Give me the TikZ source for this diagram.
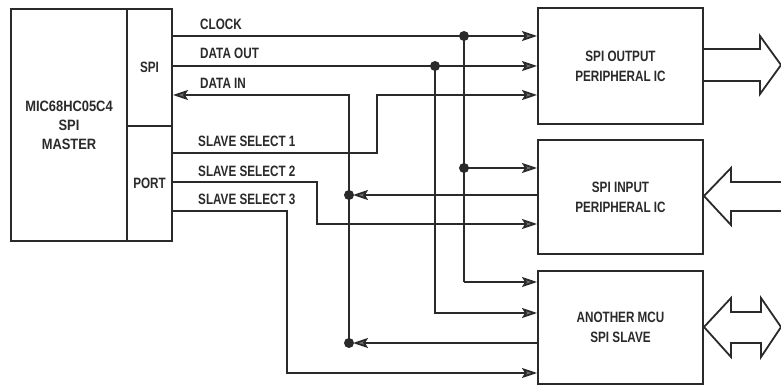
\documentclass[tikz,border=0pt]{standalone}
\usepackage{fontspec}
\setmainfont{Liberation Sans}[FakeStretch=0.78]
\newfontfamily\wideface{Liberation Sans}[FakeStretch=0.86]
\usetikzlibrary{arrows.meta}
\definecolor{ink}{HTML}{2A2A2A}
\definecolor{tipfill}{HTML}{6E6E6E}
\tikzset{
  box/.style={draw=ink, line width=2pt, inner sep=0pt, anchor=north west, align=center,
              font=\fontsize{15}{20}\selectfont\bfseries, text=ink},
  sig/.style={draw=ink, line width=1.7pt},
  arr/.style={sig, -{Stealth[length=15pt, width=10pt, inset=3pt, fill=tipfill]}},
  lbl/.style={anchor=west, inner sep=0pt, font=\fontsize{15}{16}\selectfont\bfseries, text=ink},
  dot/.style={circle, fill=ink, inner sep=0pt, minimum size=10pt},
  bigarrow/.style={draw=ink, line width=1.8pt, line join=miter},
}
\begin{document}
\begin{tikzpicture}[x=1pt, y=-1pt]
\useasboundingbox (0,0) rectangle (781,387);
\fill[white] (0,0) rectangle (781,387);

% master blocks
\node[box, minimum width=116pt, minimum height=232pt,
      font=\wideface\fontsize{15}{19}\selectfont\bfseries] (core) at (10,8) {MIC68HC05C4\\SPI\\MASTER};
\node[box, minimum width=45pt, minimum height=117pt] (spi) at (126,8) {SPI};
\node[box, minimum width=45pt, minimum height=115pt] (port) at (126,125) {PORT};

% peripheral boxes
\node[box, minimum width=165pt, minimum height=116pt] (b1) at (537,7) {SPI OUTPUT\\PERIPHERAL IC};
\node[box, minimum width=165pt, minimum height=114pt] (b2) at (537,139) {SPI INPUT\\PERIPHERAL IC};
\node[box, minimum width=165pt, minimum height=113pt] (b3) at (537,270) {ANOTHER MCU\\SPI SLAVE};

% junction coordinates
\coordinate (c1) at (464,36);
\coordinate (c2) at (464,168);
\coordinate (c3) at (464,282);
\coordinate (d1) at (435,66);
\coordinate (d2) at (435,313);
\coordinate (i0) at (349,95);
\coordinate (i1) at (349,195);
\coordinate (i2) at (349,343);
\coordinate (s1a) at (377,153);
\coordinate (s1b) at (377,95);
\coordinate (s2a) at (317,182);
\coordinate (s2b) at (317,224);
\coordinate (s3a) at (287,211);
\coordinate (s3b) at (287,373);

% CLOCK
\draw[arr] (spi.east |- c1) -- (b1.west |- c1);
\draw[sig] (c1) -- (c3);
\draw[arr] (c2) -- (b2.west |- c2);
\draw[arr] (c3) -- (b3.west |- c3);
% DATA OUT
\draw[arr] (spi.east |- d1) -- (b1.west |- d1);
\draw[arr] (d1) -- (d2) -- (b3.west |- d2);
% DATA IN
\draw[arr] (i2) -- (i0) -- (spi.east |- i0);
\draw[arr, shorten >=4pt] (b2.west |- i1) -- (i1);
\draw[arr, shorten >=4pt] (b3.west |- i2) -- (i2);
% SLAVE SELECTS
\draw[arr] (port.east |- s1a) -- (s1a) -- (s1b) -- (b1.west |- s1b);
\draw[arr] (port.east |- s2a) -- (s2a) -- (s2b) -- (b2.west |- s2b);
\draw[arr] (port.east |- s3a) -- (s3a) -- (s3b) -- (b3.west |- s3b);

% dots
\node[dot] (n1) at (c1) {};
\node[dot] (n2) at (c2) {};
\node[dot] (n3) at (d1) {};
\node[dot] (n4) at (i1) {};
\node[dot] (n5) at (i2) {};

% signal labels
\node[lbl] (lclk) at (200,24.5) {CLOCK};
\node[lbl] (ldo) at (200,53) {DATA OUT};
\node[lbl] (ldi) at (200,83) {DATA IN};
\node[lbl] (lss1) at (198,141) {SLAVE SELECT 1};
\node[lbl] (lss2) at (198,171) {SLAVE SELECT 2};
\node[lbl] (lss3) at (198,199) {SLAVE SELECT 3};

% big hollow arrows
\draw[bigarrow] (b1.east |- 0,49) -- (760,49) -- (760,36) -- (781,65) -- (760,94) -- (760,81) -- (b1.east |- 0,81);
\draw[bigarrow] (781,182) -- (731,182) -- (731,168) -- (b2.east |- 0,196) -- (731,225) -- (731,211) -- (781,211);
\draw[bigarrow] (b3.east |- 0,327) -- (731,298) -- (731,312) -- (761,312) -- (761,298) -- (781,327)
  -- (761,357) -- (761,343) -- (731,343) -- (731,357) -- cycle;
\end{tikzpicture}
\end{document}
